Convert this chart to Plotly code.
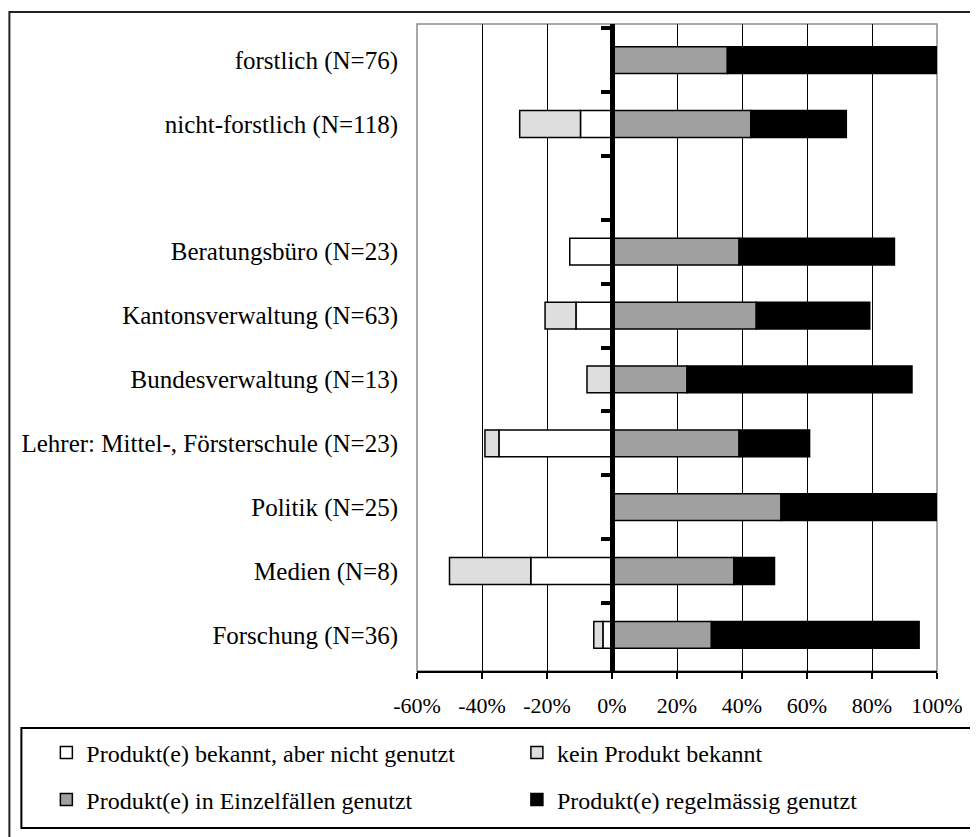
import plotly.graph_objects as go

# ---- data (percent of respondents) ----
categories = [
    "forstlich (N=76)",
    "nicht-forstlich (N=118)",
    " ",
    "Beratungsbüro (N=23)",
    "Kantonsverwaltung (N=63)",
    "Bundesverwaltung (N=13)",
    "Lehrer: Mittel-, Försterschule (N=23)",
    "Politik (N=25)",
    "Medien (N=8)",
    "Forschung (N=36)",
]
bekannt_nicht_genutzt = [0, 9.7, None, 13.0, 11.1, 0, 34.8, 0, 25.0, 2.8]
kein_produkt = [0, 18.7, None, 0, 9.5, 7.7, 4.3, 0, 25.0, 2.8]
einzelfaelle = [35.5, 42.7, None, 39.1, 44.4, 23.1, 39.1, 52.0, 37.5, 30.6]
regelmaessig = [64.5, 29.4, None, 47.8, 34.9, 69.2, 21.7, 48.0, 12.5, 63.9]

x_ticks = [-60, -40, -20, 0, 20, 40, 60, 80, 100]
x_tick_labels = ["-60%", "-40%", "-20%", "0%", "20%", "40%", "60%", "80%", "100%"]
x_range = [-60, 100]

series_names = [
    "Produkt(e) bekannt, aber nicht genutzt",
    "kein Produkt bekannt",
    "Produkt(e) in Einzelfällen genutzt",
    "Produkt(e) regelmässig genutzt",
]

FONT = "Liberation Serif"

def neg(vals):
    return [None if v is None else -v for v in vals]

fig = go.Figure()
specs = [
    (series_names[0], neg(bekannt_nicht_genutzt), "#FFFFFF", "legend"),
    (series_names[1], neg(kein_produkt), "#DEDEDE", "legend2"),
    (series_names[2], einzelfaelle, "#A0A0A0", "legend3"),
    (series_names[3], regelmaessig, "#000000", "legend4"),
]
for name, vals, color, leg in specs:
    fig.add_trace(go.Bar(
        name=name, y=categories, x=vals, orientation="h",
        marker=dict(color=color, line=dict(color="black", width=1.5)),
        legend=leg,
    ))

# invisible trace to give the zero-axis its categories
fig.add_trace(go.Scatter(
    x=[0] * len(categories), y=categories, yaxis="y2", mode="markers",
    marker=dict(opacity=0), showlegend=False, hoverinfo="skip",
))

# plot-area geometry (figure pixels)
W, H = 978, 837
L, R, T, B = 409, 48.5, 16, 174
pw, ph = W - L - R, H - T - B

def px_x(p):
    return (p - L) / pw

def px_y(p):
    return (H - B - p) / ph

zero_pos = (0 - x_range[0]) / (x_range[1] - x_range[0])

def leg(xpx, ypx):
    return dict(
        orientation="h", x=px_x(xpx), xanchor="left", y=px_y(ypx), yanchor="middle",
        bgcolor="rgba(0,0,0,0)", borderwidth=0,
        font=dict(family=FONT, size=24, color="black"),
    )

row1, row2 = 745, 792
col1, col2 = 38, 509

fig.update_layout(
    width=W, height=H,
    margin=dict(l=L, r=R, t=T, b=B, autoexpand=False),
    paper_bgcolor="white", plot_bgcolor="white",
    barmode="relative", bargap=0.58,
    font=dict(family=FONT, size=24, color="black"),
    xaxis=dict(
        range=x_range, tickvals=x_ticks, ticktext=x_tick_labels,
        showgrid=True, gridcolor="black", gridwidth=1.3,
        zeroline=False, showline=True, linecolor="black", linewidth=1.5,
        ticks="outside", ticklen=6, tickwidth=1.5, tickcolor="black",
        ticklabelstandoff=8,
        tickfont=dict(family=FONT, size=22, color="black"),
        fixedrange=True,
    ),
    yaxis=dict(
        type="category", categoryorder="array", categoryarray=categories,
        autorange="reversed", showgrid=False, zeroline=False, showline=False,
        ticks="", ticklabelstandoff=18,
        tickfont=dict(family=FONT, size=25, color="black"),
    ),
    yaxis2=dict(
        type="category", overlaying="y", matches="y", anchor="free",
        position=zero_pos, side="left", showgrid=False, zeroline=False,
        showline=True, linecolor="black", linewidth=4.5,
        ticks="outside", tickson="boundaries", ticklen=9, tickwidth=4,
        tickcolor="black", showticklabels=False,
    ),
    legend=leg(col1, row1),
    legend2=leg(col2, row1),
    legend3=leg(col1, row2),
    legend4=leg(col2, row2),
    shapes=[
        # plot area border
        dict(type="rect", xref="paper", yref="paper", x0=0, x1=1, y0=0, y1=1,
             line=dict(color="#8C8C8C", width=1.5), layer="below"),
        # legend box
        dict(type="rect", xref="paper", yref="paper",
             x0=px_x(13), x1=px_x(995), y0=px_y(820), y1=px_y(720),
             line=dict(color="black", width=2)),
        # outer chart border
        dict(type="rect", xref="paper", yref="paper",
             x0=px_x(1), x1=px_x(1000), y0=px_y(860), y1=px_y(4),
             line=dict(color="#222222", width=2)),
    ],
    showlegend=True,
)

fig.write_html("out.html")
